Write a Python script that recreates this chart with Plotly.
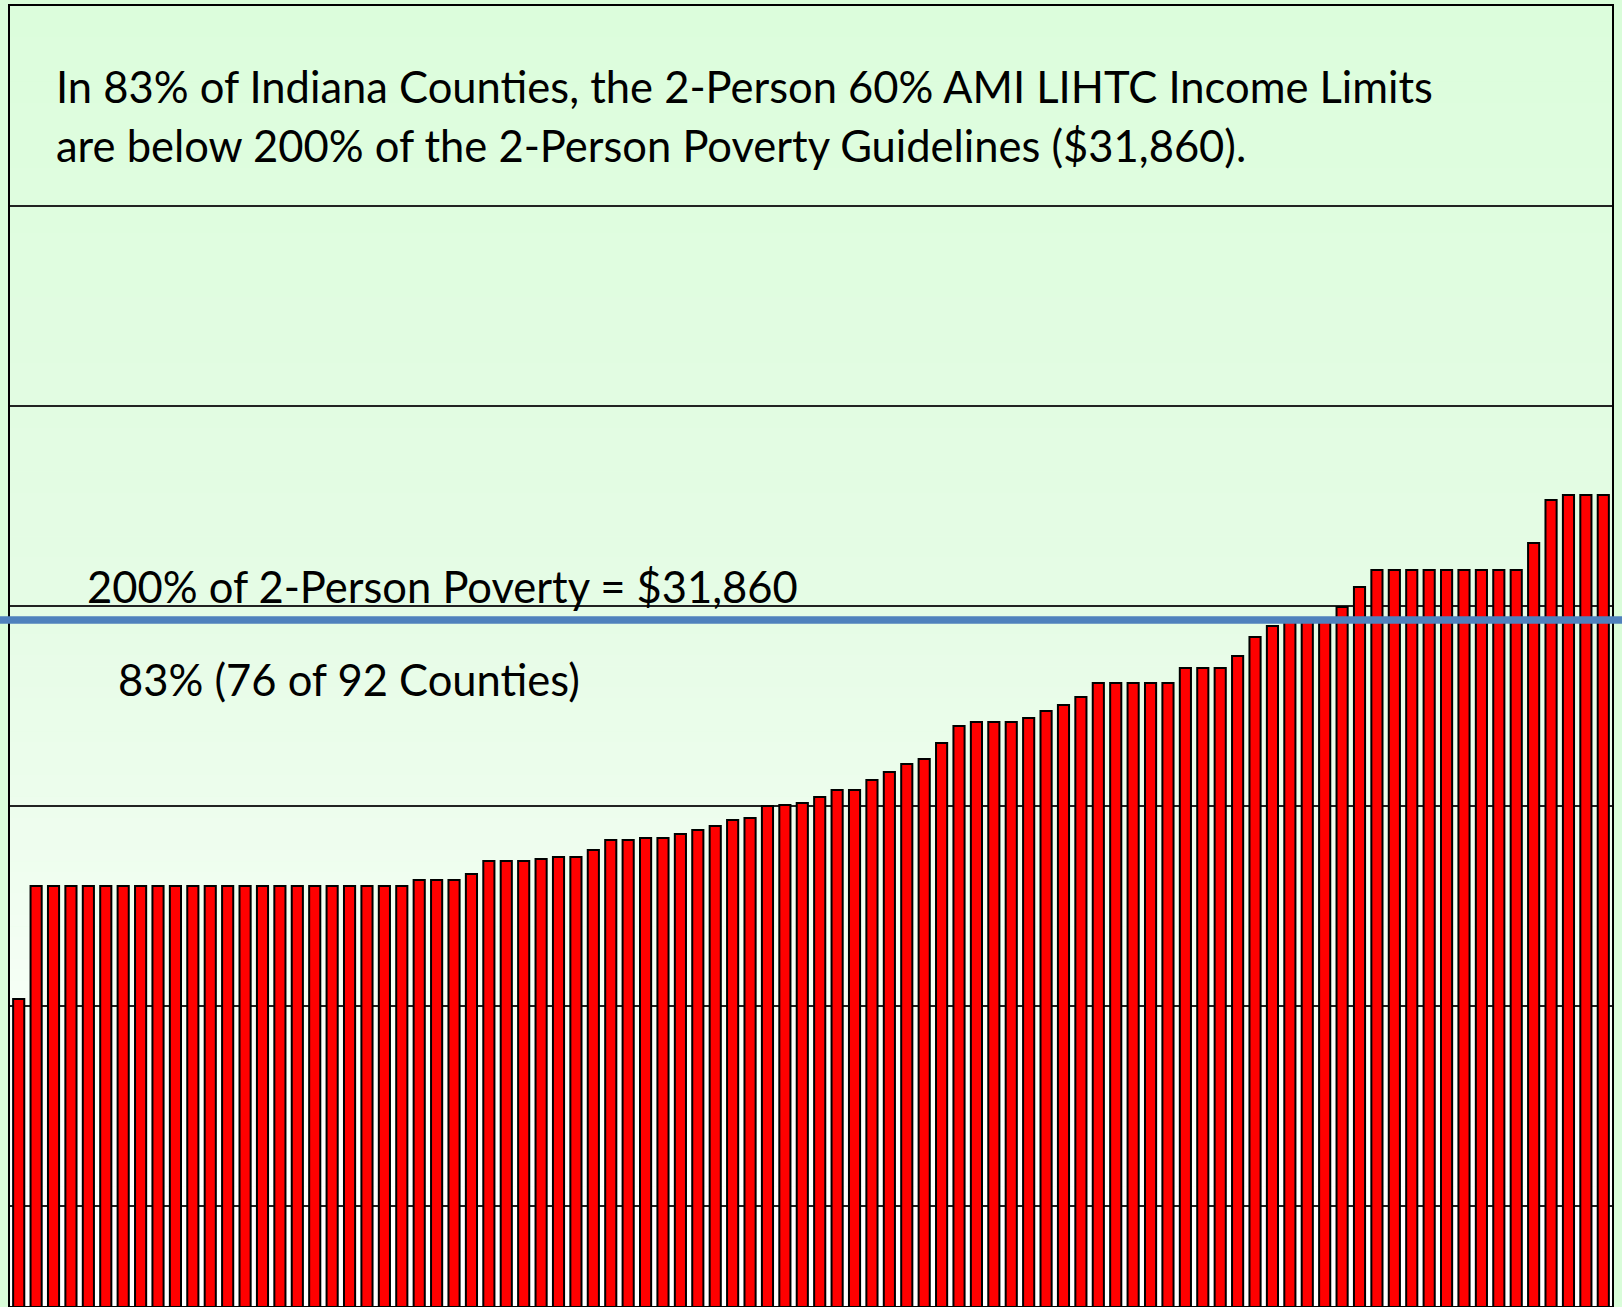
import plotly.graph_objects as go

# ---- data ----
county_rank = [str(i) for i in range(1, 93)]
income_limit_60pct_2person = [
    28070,
    29200, 29200, 29200, 29200, 29200, 29200, 29200, 29200, 29200, 29200, 29200,
    29200, 29200, 29200, 29200, 29200, 29200, 29200, 29200, 29200, 29200, 29200,
    29260, 29260, 29260, 29320, 29450, 29450, 29450, 29470, 29490, 29490,
    29560, 29660, 29660, 29680, 29680, 29720, 29760, 29800, 29860, 29880,
    30000, 30010, 30030, 30090, 30160, 30160, 30260, 30340, 30420, 30470,
    30630, 30800, 30840, 30840, 30840, 30880, 30950, 31010, 31090,
    31230, 31230, 31230, 31230, 31230, 31380, 31380, 31380, 31500, 31690,
    31800, 31850, 31850, 31850,
    31990, 32190,
    32360, 32360, 32360, 32360, 32360, 32360, 32360, 32360, 32360,
    32630, 33060, 33110, 33110, 33110,
]
poverty_200pct_2person = 31860

title_lines = [
    "In 83% of Indiana Counties, the 2-Person 60% AMI LIHTC Income Limits",
    "are below 200% of the 2-Person Poverty Guidelines ($31,860).",
]
line_label = "200% of 2-Person Poverty = $31,860"
share_label = "83% (76 of 92 Counties)"

y_range = [25000, 38000]
grid_step = 2000

# ---- figure ----
fig = go.Figure()
fig.add_trace(go.Bar(
    x=county_rank,
    y=income_limit_60pct_2person,
    marker=dict(color="#FF0000", line=dict(color="#000000", width=2)),
    width=0.64,
    hoverinfo="y",
))

# vertical gradient background of the plot area (pale green -> white)
stops = [(0.0, (220, 253, 220)), (0.45, (229, 252, 229)), (0.62, (237, 253, 237)),
         (0.78, (246, 255, 246)), (0.9, (253, 255, 253)), (1.0, (255, 255, 255))]


def col_at(t):
    for (t0, c0), (t1, c1) in zip(stops[:-1], stops[1:]):
        if t0 <= t <= t1:
            f = (t - t0) / (t1 - t0) if t1 > t0 else 0
            return tuple(round(a + (b - a) * f) for a, b in zip(c0, c1))
    return stops[-1][1]


n_bands = 120
shapes = []
for k in range(n_bands):
    t_top = k / n_bands
    t_bot = (k + 1) / n_bands
    c = col_at((t_top + t_bot) / 2)
    shapes.append(dict(
        type="rect", xref="paper", yref="paper",
        x0=0, x1=1, y0=1 - t_bot, y1=1 - t_top + 0.0005,
        fillcolor=f"rgb{c}", line=dict(width=0), layer="below",
    ))

# 200% poverty line
shapes.append(dict(
    type="line", xref="paper", yref="y",
    x0=-0.01, x1=1.01, y0=poverty_200pct_2person, y1=poverty_200pct_2person,
    line=dict(color="#4F81BD", width=7.5), layer="above",
))

font = dict(family="Lato, Open Sans, sans-serif", size=43.5, color="#000000")
annotations = [
    dict(text=title_lines[0], xref="paper", yref="paper", x=0.0275, y=0.9385,
         xanchor="left", yanchor="middle", showarrow=False, font=font),
    dict(text=title_lines[1], xref="paper", yref="paper", x=0.0275, y=0.8931,
         xanchor="left", yanchor="middle", showarrow=False, font=font),
    dict(text=line_label, xref="paper", yref="paper", x=0.0468, y=0.5535,
         xanchor="left", yanchor="middle", showarrow=False, font=font),
    dict(text=share_label, xref="paper", yref="paper", x=0.0662, y=0.4826,
         xanchor="left", yanchor="middle", showarrow=False, font=font),
]

fig.update_layout(
    width=1622, height=1307,
    margin=dict(l=10, r=10, t=6, b=1, pad=0),
    paper_bgcolor="#D9FDD9",
    plot_bgcolor="rgba(0,0,0,0)",
    showlegend=False,
    shapes=shapes,
    annotations=annotations,
    xaxis=dict(
        type="category", range=[-0.5, 91.5],
        showticklabels=False, ticks="", showgrid=False, zeroline=False,
        showline=True, mirror=True, linecolor="#000000", linewidth=2,
    ),
    yaxis=dict(
        range=y_range, dtick=grid_step, tick0=0,
        showticklabels=False, ticks="", showgrid=True,
        gridcolor="#222222", gridwidth=1.5, zeroline=False,
        showline=True, mirror=True, linecolor="#000000", linewidth=2,
    ),
)

fig.write_html(
    "out.html",
    config={"displayModeBar": False},
    post_script="document.body.style.margin='0px';document.body.style.overflow='hidden';",
)
